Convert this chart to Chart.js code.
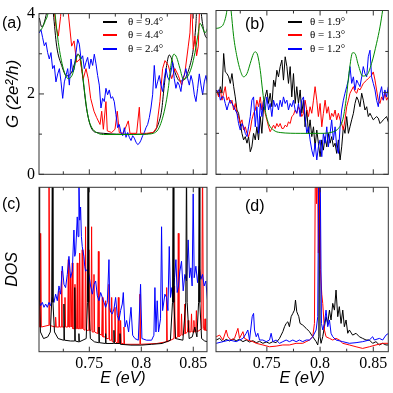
<!DOCTYPE html>
<html>
<head>
<meta charset="utf-8">
<script src="https://cdn.jsdelivr.net/npm/chart.js@4.4.0/dist/chart.umd.min.js"></script>
<style>
  html, body { margin: 0; padding: 0; background: #fff; }
  #wrap { position: relative; width: 393px; height: 393px; }
  #wrap canvas { position: absolute; left: 0; top: 0; }
</style>
</head>
<body>
<div id="wrap">
  <canvas id="pa" width="393" height="393"></canvas>
  <canvas id="pb" width="393" height="393"></canvas>
  <canvas id="pc" width="393" height="393"></canvas>
  <canvas id="pd" width="393" height="393"></canvas>
</div>
<script>
// ---- axis ticks ----
var xTickVals = [0.725, 0.75, 0.775, 0.8, 0.825, 0.85];
var xTickLabels = ['', '0.75', '', '0.8', '', '0.85'];
var gTickVals = [0, 1, 2, 3, 4];
var gTickLabels = ['0', '', '2', '', '4'];
var legendA = ['θ = 9.4°', 'θ = 4.4°', 'θ = 2.4°'];
var legendB = ['θ = 1.9°', 'θ = 1.3°', 'θ = 1.2°'];

// ---- (a) conductance ----
var aBlackE = [0.7019,0.7042,0.7064,0.7090,0.7106,0.7138,0.7154,0.7186,0.7234,0.7282,0.7330,0.7362,0.7388,0.7410,0.7442,0.7468,0.7490,0.7512,0.7538,0.7571,0.7635,0.7763,0.7923,0.8019,0.8083,0.8131,0.8163,0.8196,0.8218,0.8244,0.8269,0.8292,0.8324,0.8372,0.8420,0.8468,0.8500,0.8526,0.8538,0.8564,0.8580,0.8603,0.8628,0.8644];
var aBlackG = [3.89,3.67,3.76,4.05,4.41,4.41,4.01,3.19,2.71,2.45,2.54,2.79,2.99,2.91,2.30,1.73,1.41,1.20,1.08,1.04,1.02,1.00,1.00,1.00,1.02,1.08,1.25,1.60,2.14,2.71,2.97,2.87,2.54,2.32,2.38,2.71,3.11,3.76,4.41,4.41,3.93,3.56,3.40,3.44];
var aGreenE = [0.7019,0.7042,0.7074,0.7106,0.7122,0.7154,0.7170,0.7202,0.7250,0.7298,0.7340,0.7378,0.7394,0.7417,0.7442,0.7468,0.7490,0.7522,0.7571,0.7635,0.7923,0.8051,0.8115,0.8163,0.8196,0.8228,0.8260,0.8285,0.8314,0.8340,0.8372,0.8404,0.8436,0.8484,0.8516,0.8548,0.8564,0.8590,0.8612,0.8644];
var aGreenG = [3.56,3.62,3.80,4.05,4.41,4.41,4.01,3.28,2.63,2.38,2.50,2.91,2.97,2.87,2.34,1.77,1.41,1.17,1.04,0.99,0.99,1.00,1.02,1.12,1.33,1.65,2.14,2.71,2.99,2.91,2.63,2.37,2.40,2.67,3.03,3.52,3.76,3.64,3.52,3.68];
var aRedE = [0.7154,0.7165,0.7179,0.7202,0.7224,0.7238,0.7282,0.7298,0.7330,0.7353,
  0.7378,0.7410,0.7442,0.7468,0.7490,0.7513,0.7545,0.7571,0.7603,0.7619,
  0.7635,0.7660,0.7673,0.7715,0.7747,0.7769,0.7788,0.7827,0.7875,0.7891,
  0.7955,0.7981,0.7994,0.8051,0.8115,0.8147,0.8179,0.8205,0.8228,0.8260,
  0.8292,0.8324,0.8356,0.8388,0.8420,0.8452,0.8468,0.8484,0.8500,0.8516,
  0.8532,0.8548,0.8564,0.8644];
var aRedG = [4.41,4.01,3.68,3.44,3.93,4.41,4.41,4.01,3.19,3.32,
  2.79,2.87,2.38,2.63,2.38,1.89,1.57,1.41,1.24,1.57,
  1.12,1.81,1.08,1.04,1.12,1.57,1.04,1.02,1.33,1.02,
  1.02,1.67,1.02,1.02,1.04,1.16,1.81,2.63,2.83,2.71,
  2.38,2.63,2.46,2.22,2.54,3.19,3.52,4.41,3.11,3.44,
  2.95,3.19,4.41,4.41];
var aBlueE = [0.7019,0.7035,0.7051,0.7067,0.7083,0.7099,0.7115,0.7131,0.7147,0.7163,
  0.7179,0.7196,0.7212,0.7228,0.7244,0.7260,0.7276,0.7292,0.7308,0.7324,
  0.7340,0.7356,0.7372,0.7388,0.7404,0.7420,0.7436,0.7452,0.7468,0.7484,
  0.7500,0.7516,0.7532,0.7548,0.7564,0.7580,0.7596,0.7612,0.7628,0.7644,
  0.7660,0.7676,0.7692,0.7708,0.7724,0.7740,0.7756,0.7772,0.7788,0.7804,
  0.7821,0.7837,0.7853,0.7869,0.7885,0.7901,0.7917,0.7933,0.7949,0.7965,
  0.7981,0.7997,0.8013,0.8029,0.8045,0.8061,0.8077,0.8093,0.8109,0.8125,
  0.8141,0.8157,0.8173,0.8189,0.8205,0.8221,0.8237,0.8253,0.8269,0.8285,
  0.8301,0.8317,0.8333,0.8349,0.8365,0.8381,0.8397,0.8413,0.8429,0.8446,
  0.8462,0.8478,0.8494,0.8510,0.8526,0.8542,0.8558,0.8574,0.8590,0.8606,
  0.8622,0.8638];
var aBlueG = [3.52,3.60,3.40,3.20,3.28,3.03,2.87,3.03,2.63,2.71,
  2.30,2.50,2.63,2.30,1.89,2.30,2.46,2.63,2.22,2.87,
  2.54,2.63,3.03,3.36,3.24,2.87,2.95,2.63,2.79,2.91,
  2.63,2.87,2.71,2.99,2.75,2.46,2.22,1.65,1.89,1.81,
  2.14,1.98,2.10,1.89,1.93,1.81,1.49,1.16,1.24,1.04,
  0.96,1.16,0.92,1.04,0.92,0.84,0.96,0.90,0.80,0.74,
  0.77,0.85,0.96,1.04,1.16,1.24,1.41,1.65,1.98,2.71,
  2.14,2.30,2.46,2.22,2.06,2.38,2.63,2.42,2.34,2.54,
  2.79,2.38,2.14,2.30,2.22,2.06,2.38,2.46,2.63,2.38,
  2.22,2.46,2.30,1.98,1.81,2.14,2.50,2.22,1.98,2.30,
  2.46,2.22];

// ---- (b) conductance ----
var bGridE = [0.7016,0.7031,0.7047,0.7063,0.7078,0.7094,0.7109,0.7125,0.7141,0.7156,
  0.7172,0.7188,0.7203,0.7219,0.7234,0.7250,0.7266,0.7281,0.7297,0.7313,
  0.7328,0.7344,0.7359,0.7375,0.7391,0.7406,0.7422,0.7438,0.7453,0.7469,
  0.7484,0.7500,0.7516,0.7531,0.7547,0.7563,0.7578,0.7594,0.7609,0.7625,
  0.7641,0.7656,0.7672,0.7688,0.7703,0.7719,0.7734,0.7750,0.7766,0.7781,
  0.7797,0.7813,0.7828,0.7844,0.7859,0.7875,0.7891,0.7906,0.7922,0.7938,
  0.7953,0.7969,0.7984,0.8000,0.8016,0.8031,0.8047,0.8063,0.8078,0.8094,
  0.8109,0.8125,0.8141,0.8156,0.8172,0.8188,0.8203,0.8219,0.8234,0.8250,
  0.8266,0.8281,0.8297,0.8313,0.8328,0.8344,0.8359,0.8375,0.8391,0.8406,
  0.8422,0.8438,0.8453,0.8469,0.8484,0.8500,0.8516,0.8531,0.8547,0.8563,
  0.8578,0.8594,0.8609,0.8625,0.8641];
var bBlackG = [2.06,2.04,1.93,2.14,1.98,2.95,2.50,2.46,2.38,2.22,
  2.46,2.14,1.89,1.57,1.49,1.24,1.00,0.84,0.92,0.76,
  0.92,0.55,0.67,1.00,0.84,1.16,0.84,1.41,1.00,1.65,
  1.89,2.06,1.73,1.98,1.65,2.30,2.14,2.54,2.38,2.63,
  2.79,2.30,2.87,2.63,2.22,2.63,1.89,2.46,1.73,2.14,
  1.73,2.06,1.49,1.81,1.16,1.57,1.00,1.33,0.92,1.16,
  0.67,1.08,0.76,0.43,0.84,0.59,0.92,0.67,1.00,0.76,
  0.92,0.67,0.76,0.51,0.84,0.35,0.67,1.16,1.00,1.41,
  1.00,1.16,1.33,1.49,1.73,1.89,1.81,1.65,1.98,1.81,
  1.57,1.65,1.41,1.49,1.41,1.33,1.37,1.41,1.37,1.24,
  1.28,1.33,1.37,1.41,1.28];
var bRedG = [2.06,2.02,1.89,2.06,1.81,1.98,2.14,1.81,1.89,1.73,
  1.81,1.57,1.73,1.49,1.41,1.24,1.33,1.08,1.16,1.00,
  0.92,1.08,1.33,1.49,1.57,1.81,1.65,1.89,1.57,1.81,
  1.49,1.33,1.16,1.04,1.12,1.20,1.12,1.24,1.16,1.24,
  1.12,1.12,1.20,1.16,1.28,1.24,1.41,1.45,1.57,1.49,
  1.65,1.57,1.41,1.49,1.81,1.57,1.41,1.65,1.49,1.81,
  2.14,1.81,1.41,1.73,1.16,1.49,1.81,1.49,1.65,1.33,
  1.49,1.41,1.57,1.33,1.49,1.33,1.24,1.08,1.33,1.65,
  1.81,1.98,2.06,2.14,2.02,1.98,2.10,2.06,2.14,2.22,
  2.26,2.30,2.34,2.38,2.42,2.50,2.30,2.06,1.81,1.73,
  1.89,1.81,1.98,1.81,1.89];
var bBlueG = [1.98,2.02,2.06,1.81,1.89,1.89,1.73,1.57,1.73,1.81,
  1.73,1.65,1.57,1.49,1.24,1.08,1.24,1.16,1.00,0.92,
  1.16,1.41,1.81,1.89,1.16,1.65,1.00,1.73,1.41,1.81,
  1.57,1.89,1.57,1.73,1.41,1.81,1.65,1.73,1.57,1.81,
  1.65,1.89,1.73,1.81,1.57,1.73,1.65,1.81,1.57,1.49,
  1.73,1.41,1.81,1.89,1.41,1.00,1.16,0.84,0.59,0.43,
  0.76,0.35,0.67,0.84,0.43,1.00,0.76,1.16,0.67,1.00,
  1.33,0.84,1.16,0.67,0.51,1.16,1.57,1.81,1.98,2.14,
  2.30,2.63,2.22,2.38,2.06,2.30,2.22,2.14,2.38,2.63,
  2.46,2.38,2.87,3.03,2.38,2.22,2.06,1.81,1.65,1.98,
  2.14,1.81,2.06,1.89,2.14];
var bGreenE = [0.7016,0.7063,0.7094,0.7125,0.7141,0.7163,0.7188,0.7219,0.7250,0.7281,0.7313,0.7344,0.7375,0.7391,0.7413,0.7438,0.7459,0.7484,0.7516,0.7563,0.7625,0.7813,0.8000,0.8125,0.8172,0.8213,0.8244,0.8275,0.8306,0.8328,0.8359,0.8400,0.8438,0.8484,0.8531,0.8563,0.8588,0.8609,0.8641];
var bGreenG = [3.56,3.59,3.68,4.01,4.41,4.01,3.36,2.87,2.54,2.38,2.46,2.71,2.95,2.99,2.91,2.54,2.06,1.57,1.24,1.08,1.02,1.00,1.00,1.04,1.12,1.33,1.81,2.54,2.97,2.95,2.67,2.40,2.42,2.71,3.20,3.60,4.01,4.41,4.41];

// ---- (c) DOS ----
var cBlackE = [0.7016,0.7022,0.7030,0.7060,0.7100,0.7125,0.7138,0.7144,0.7150,0.7165,
  0.7200,0.7251,0.7256,0.7261,0.7320,0.7355,0.7360,0.7365,0.7396,0.7400,
  0.7404,0.7470,0.7482,0.7488,0.7494,0.7510,0.7550,0.7589,0.7593,0.7597,
  0.7653,0.7657,0.7661,0.7733,0.7737,0.7741,0.7791,0.7795,0.7799,0.7900,
  0.8000,0.8100,0.8200,0.8280,0.8300,0.8307,0.8313,0.8330,0.8400,0.8428,
  0.8435,0.8441,0.8460,0.8490,0.8515,0.8535,0.8551,0.8557,0.8563,0.8580,
  0.8610,0.8640];
var cBlackD = [1.2,0.30,0.12,0.08,0.09,0.12,0.30,1.2,0.30,0.12,
  0.08,0.07,0.29,0.07,0.065,0.065,0.39,0.065,0.06,0.11,
  0.06,0.08,0.30,1.2,0.30,0.08,0.06,0.055,0.15,0.055,
  0.05,0.11,0.05,0.05,0.13,0.05,0.05,0.11,0.045,0.04,
  0.04,0.045,0.05,0.07,0.30,1.2,0.30,0.08,0.07,0.30,
  1.2,0.30,0.08,0.09,0.15,0.09,0.30,1.2,0.30,0.08,
  0.065,0.06];
var cRedE = [0.7016,0.7022,
  0.7027,0.7032,0.7038, 0.7104,0.7112,0.7120, 0.7170,0.7176,0.7182,
  0.7202,0.7208,0.7214, 0.7228,0.7234,0.7240, 0.7260,0.7266,0.7272,
  0.7292,0.7298,0.7304, 0.7314,0.7320,0.7326, 0.7331,0.7336,0.7342,
  0.7356,0.7362,0.7368, 0.7378,0.7384,0.7390, 0.7401,0.7407,0.7413,
  0.7426,0.7432,0.7438, 0.7458,0.7464,0.7470, 0.7490,0.7496,0.7502,
  0.7516,0.7522,0.7528, 0.7539,0.7545,0.7551, 0.7581,0.7587,0.7593,
  0.7619,0.7625,0.7631, 0.7651,0.7657,0.7663, 0.7683,0.7689,0.7695,
  0.7709,0.7715,0.7721, 0.7741,0.7747,0.7753, 0.7773,0.7779,0.7785,
  0.7796,0.7801,0.7807, 0.7827,0.7833,0.7839, 0.7981,0.7987,0.7993,
  0.8150,
  0.8238,0.8244,0.8250, 0.8314,0.8320,0.8326, 0.8350,0.8356,0.8362,
  0.8381,0.8387,0.8393, 0.8413,0.8419,0.8425, 0.8445,0.8451,0.8457,
  0.8477,0.8483,0.8489, 0.8500,0.8506,0.8512, 0.8524,0.8530,0.8536,
  0.8581,0.8589,0.8597, 0.8607,0.8613,0.8619,
  0.8640];
var cRedD = [0.43,0.15,
  0.15,0.72,0.15, 0.16,1.2,0.16, 0.15,0.21,0.15,
  0.15,0.37,0.15, 0.15,0.49,0.15, 0.15,0.33,0.15,
  0.15,0.56,0.15, 0.15,0.47,0.15, 0.15,0.54,0.14,
  0.14,0.41,0.14, 0.14,0.54,0.14, 0.14,0.60,0.14,
  0.14,0.62,0.14, 0.13,0.76,0.13, 0.13,0.62,0.13,
  0.13,0.76,0.12, 0.12,0.47,0.12, 0.11,0.61,0.11,
  0.10,0.33,0.09, 0.09,0.31,0.08, 0.08,0.41,0.07,
  0.07,0.33,0.06, 0.06,0.27,0.06, 0.05,0.33,0.05,
  0.05,0.19,0.05, 0.05,0.15,0.045, 0.045,0.35,0.045,
  0.05,
  0.06,0.39,0.06, 0.08,0.40,0.08, 0.09,0.72,0.09,
  0.10,0.23,0.10, 0.11,0.29,0.11, 0.12,0.19,0.12,
  0.12,0.23,0.12, 0.12,0.19,0.12, 0.12,0.25,0.12,
  0.14,1.2,0.14, 0.13,0.20,0.13,
  0.13];
var cBlueE = [0.7016,0.7032,0.7048,0.7064,0.7080,0.7096,0.7112,0.7128,0.7144,0.7160,
  0.7176,0.7192,0.7208,0.7224,0.7240,0.7256,0.7272,0.7288,0.7304,0.7320,
  0.7336,0.7352,0.7360,0.7368,0.7384,0.7392,0.7400,0.7408,0.7416,0.7424,
  0.7432,0.7448,0.7456,0.7464,0.7480,0.7496,0.7512,0.7529,0.7545,0.7561,
  0.7577,0.7593,0.7609,0.7625,0.7641,0.7657,0.7673,0.7689,0.7697,0.7705,
  0.7721,0.7737,0.7753,0.7769,0.7785,0.7801,0.7817,0.7827,0.7843,0.7859,
  0.7878,0.7901,0.7917,0.7939,0.7971,0.7993,0.8006,0.8051,0.8099,0.8121,
  0.8131,0.8141,0.8153,0.8166,0.8185,0.8195,0.8205,0.8227,0.8243,0.8256,
  0.8269,0.8281,0.8294,0.8307,0.8320,0.8333,0.8345,0.8358,0.8371,0.8387,
  0.8403,0.8419,0.8435,0.8451,0.8464,0.8477,0.8489,0.8499,0.8509,0.8525,
  0.8541,0.8557,0.8573,0.8589,0.8605,0.8621,0.8637];
var cBlueD = [0.31,0.28,0.30,0.27,0.29,0.27,0.30,0.28,0.33,0.30,
  0.35,0.31,0.40,0.35,0.52,0.41,0.39,0.47,0.58,0.45,
  0.49,0.74,0.58,0.60,0.82,0.70,1.05,0.80,0.88,0.70,
  0.64,0.58,0.52,0.49,0.50,0.47,0.40,0.35,0.41,0.43,
  0.34,0.31,0.36,0.33,0.30,0.27,0.30,0.56,0.27,0.24,
  0.23,0.26,0.33,0.22,0.19,0.25,0.29,0.36,0.15,0.19,
  0.12,0.27,0.10,0.08,0.07,0.41,0.08,0.07,0.07,0.10,
  0.39,0.12,0.31,0.12,0.20,0.76,0.25,0.35,0.33,0.25,
  0.64,0.33,0.39,0.30,0.45,0.56,0.36,0.40,0.49,0.55,
  0.37,0.47,0.43,0.68,0.45,0.51,0.40,0.96,0.45,0.52,
  0.42,0.52,0.44,0.47,0.40,0.43,0.31];

// ---- (d) DOS ----
var dBlackE = [0.7024,0.7056,0.7087,0.7118,0.7149,0.7181,0.7212,0.7243,0.7275,0.7306,
  0.7337,0.7368,0.7400,0.7431,0.7462,0.7494,0.7525,0.7556,0.7587,0.7619,
  0.7634,0.7650,0.7666,0.7681,0.7697,0.7712,0.7728,0.7744,0.7759,0.7769,
  0.7781,0.7800,0.7812,0.7837,0.7869,0.7900,0.7931,0.7963,0.7978,0.7988,
  0.7994,0.8000,0.8009,0.8025,0.8041,0.8056,0.8072,0.8088,0.8103,0.8119,
  0.8135,0.8150,0.8166,0.8181,0.8197,0.8213,0.8228,0.8244,0.8260,0.8275,
  0.8306,0.8338,0.8369,0.8400,0.8432,0.8463,0.8494,0.8525,0.8557,0.8588,
  0.8619,0.8644];
var dBlackD = [0.071,0.081,0.061,0.075,0.065,0.077,0.067,0.075,0.061,0.071,
  0.059,0.067,0.055,0.063,0.051,0.059,0.051,0.061,0.055,0.081,
  0.101,0.122,0.152,0.172,0.182,0.152,0.213,0.233,0.253,0.314,
  0.243,0.213,0.172,0.162,0.142,0.122,0.091,0.061,0.041,0.09,
  1.2,0.09,0.051,0.091,0.152,0.213,0.172,0.253,0.193,0.294,
  0.253,0.375,0.213,0.274,0.172,0.253,0.152,0.193,0.112,0.132,
  0.101,0.112,0.091,0.081,0.071,0.071,0.051,0.061,0.041,0.051,
  0.041,0.041];
var dRedE = [0.7024,0.7056,0.7087,0.7118,0.7134,0.7165,0.7196,0.7228,0.7243,0.7275,
  0.7290,0.7321,0.7368,0.7400,0.7462,0.7525,0.7587,0.7650,0.7712,0.7775,
  0.7837,0.7869,0.7900,0.7931,0.7947,0.7956,0.7966,0.7975,0.7984,0.7994,
  0.8003,0.8016,0.8025,0.8041,0.8056,0.8088,0.8119,0.8150,0.8181,0.8213,
  0.8275,0.8338,0.8400,0.8463,0.8525,0.8588,0.8644];
var dRedD = [0.091,0.101,0.071,0.132,0.091,0.071,0.081,0.142,0.081,0.122,
  0.081,0.071,0.061,0.051,0.041,0.030,0.034,0.041,0.041,0.051,
  0.051,0.061,0.071,0.091,0.172,1.2,0.9,1.2,0.6,1.2,
  0.5,0.35,0.294,0.132,0.091,0.081,0.071,0.081,0.071,0.051,
  0.041,0.030,0.020,0.030,0.041,0.051,0.051];
var dBlueE = [0.7024,0.7087,0.7149,0.7212,0.7275,0.7306,0.7321,0.7337,0.7362,0.7375,
  0.7384,0.7400,0.7415,0.7431,0.7462,0.7494,0.7525,0.7540,0.7556,0.7587,
  0.7619,0.7650,0.7681,0.7712,0.7744,0.7775,0.7806,0.7837,0.7869,0.7900,
  0.7931,0.7963,0.7978,0.7988,0.8000,0.8013,0.8025,0.8041,0.8056,0.8072,
  0.8088,0.8103,0.8119,0.8150,0.8213,0.8275,0.8338,0.8400,0.8463,0.8494,
  0.8510,0.8557,0.8588,0.8619,0.8644];
var dBlueD = [0.051,0.061,0.071,0.061,0.081,0.112,0.132,0.071,0.213,0.233,
  0.132,0.091,0.112,0.071,0.071,0.061,0.071,0.112,0.061,0.071,
  0.051,0.061,0.071,0.061,0.071,0.061,0.071,0.061,0.071,0.071,
  0.091,0.132,0.213,1.2,1.2,0.172,0.132,0.172,0.253,0.152,
  0.193,0.112,0.091,0.071,0.061,0.051,0.055,0.061,0.071,0.091,
  0.071,0.081,0.071,0.101,0.112];

var serif = '"Liberation Serif", "Times New Roman", serif';
var sans = '"Liberation Sans", Arial, sans-serif';
var SIZE = 393;

function pts(xs, ys) {
  return xs.map(function (x, i) { return { x: x, y: ys[i] }; });
}

function line(xs, ys, color, smooth) {
  return {
    data: pts(xs, ys),
    borderColor: color,
    borderWidth: 1,
    pointRadius: 0,
    fill: false,
    tension: smooth ? 0.4 : 0,
    cubicInterpolationMode: smooth ? 'monotone' : 'default',
    clip: 0
  };
}

// frame, inward ticks, panel letter and legend
function frame(o) {
  return {
    id: 'frame',
    afterDraw: function (chart) {
      var a = chart.chartArea, ctx = chart.ctx;
      var xs = chart.scales.x, ys = chart.scales.y;
      ctx.save();
      ctx.strokeStyle = '#333';
      ctx.lineWidth = 1;
      ctx.strokeRect(a.left, a.top, a.right - a.left, a.bottom - a.top);
      ctx.beginPath();
      xTickVals.forEach(function (v, i) {
        var p = xs.getPixelForValue(v), len = xTickLabels[i] ? 5 : 3;
        ctx.moveTo(p, a.bottom); ctx.lineTo(p, a.bottom - len);
        ctx.moveTo(p, a.top); ctx.lineTo(p, a.top + len);
      });
      if (o.yTicks) {
        gTickVals.forEach(function (v, i) {
          var p = ys.getPixelForValue(v), len = gTickLabels[i] ? 5 : 3;
          ctx.moveTo(a.left, p); ctx.lineTo(a.left + len, p);
          ctx.moveTo(a.right, p); ctx.lineTo(a.right - len, p);
        });
      }
      ctx.stroke();

      ctx.fillStyle = '#000';
      ctx.textBaseline = 'middle';
      ctx.font = '16px ' + sans;
      ctx.fillText(o.tag, o.tagX, o.tagY);

      if (o.legend) {
        var rows = [22, 35, 49];
        var cols = ['#000000', '#ff0000', '#0000ff'];
        ctx.font = '11px ' + serif;
        ctx.lineWidth = 2;
        o.legend.forEach(function (txt, i) {
          ctx.strokeStyle = cols[i];
          ctx.beginPath();
          ctx.moveTo(o.lx, rows[i]); ctx.lineTo(o.lx + 14, rows[i]);
          ctx.stroke();
          ctx.fillText(txt, o.tx, rows[i]);
        });
      }
      ctx.restore();
    }
  };
}

function panel(id, box, o, sets) {
  var yw = o.yTitle ? 36 : 0;
  var xh = o.xTitle ? 36 : 0;
  return new Chart(document.getElementById(id), {
    type: 'line',
    data: { datasets: sets },
    options: {
      responsive: false,
      animation: false,
      events: [],
      layout: { padding: { left: box[0] - yw, top: box[1], right: SIZE - box[2], bottom: SIZE - box[3] - xh } },
      plugins: { legend: { display: false }, tooltip: { enabled: false } },
      scales: {
        x: {
          type: 'linear',
          min: o.xMin,
          max: o.xMax,
          display: !!o.xTitle,
          afterFit: function (s) { s.height = xh; },
          afterBuildTicks: function (s) { s.ticks = xTickVals.map(function (v) { return { value: v }; }); },
          grid: { display: false, drawTicks: false },
          border: { display: false },
          ticks: {
            autoSkip: false, maxRotation: 0, padding: 2, color: '#000',
            font: { family: serif, size: 16 },
            callback: function (v) {
              for (var k = 0; k < xTickVals.length; k++) if (Math.abs(xTickVals[k] - v) < 1e-6) return xTickLabels[k];
              return '';
            }
          },
          title: { display: !!o.xTitle, text: 'E (eV)', color: '#000', padding: 0,
                   font: { family: sans, size: 16, style: 'italic' } }
        },
        y: {
          type: 'linear',
          min: 0,
          max: o.yMax,
          display: !!o.yTitle,
          afterFit: function (s) { s.width = yw; },
          afterBuildTicks: function (s) { s.ticks = gTickVals.map(function (v) { return { value: v }; }); },
          grid: { display: false, drawTicks: false },
          border: { display: false },
          ticks: {
            display: !!o.yLabels, autoSkip: false, padding: 4, color: '#000',
            font: { family: serif, size: 16 },
            callback: function (v) {
              for (var k = 0; k < gTickVals.length; k++) if (Math.abs(gTickVals[k] - v) < 1e-6) return gTickLabels[k];
              return '';
            }
          },
          title: { display: !!o.yTitle, text: o.yTitle || '', color: '#000', padding: 0,
                   font: { family: sans, size: o.titleSize || 16, style: 'italic' } }
        }
      }
    },
    plugins: [frame(o)]
  });
}

var GREEN = '#008a00', RED = '#ff0000', BLUE = '#0000ff', BLACK = '#000000';

panel('pa', [39, 10.5, 207, 174.3],
  { xMin: 0.7016, xMax: 0.8632, yMax: 4, yTitle: 'G (2e²/h)', titleSize: 17, yLabels: true, yTicks: true,
    tag: '(a)', tagX: 2, tagY: 24, legend: legendA, lx: 103, tx: 128 },
  [line(aGreenE, aGreenG, GREEN, true),
   line(aBlueE, aBlueG, BLUE, false),
   line(aRedE, aRedG, RED, false),
   line(aBlackE, aBlackG, BLACK, true)]);

panel('pb', [216, 10.5, 388.3, 174.3],
  { xMin: 0.7022, xMax: 0.8641, yMax: 4, yTicks: true,
    tag: '(b)', tagX: 245, tagY: 25, legend: legendB, lx: 288, tx: 310 },
  [line(bGreenE, bGreenG, GREEN, true),
   line(bGridE, bBlueG, BLUE, false),
   line(bGridE, bRedG, RED, false),
   line(bGridE, bBlackG, BLACK, false)]);

panel('pc', [39, 187.3, 207, 351.7],
  { xMin: 0.7016, xMax: 0.8632, yMax: 1, yTitle: 'DOS', xTitle: true,
    tag: '(c)', tagX: 2, tagY: 205 },
  [line(cBlackE, cBlackD, BLACK, false),
   line(cBlueE, cBlueD, BLUE, false),
   line(cRedE, cRedD, RED, false)]);

panel('pd', [216, 187.3, 388.3, 351.7],
  { xMin: 0.7022, xMax: 0.8641, yMax: 1, xTitle: true,
    tag: '(d)', tagX: 245, tagY: 207 },
  [line(dBlueE, dBlueD, BLUE, false),
   line(dRedE, dRedD, RED, false),
   line(dBlackE, dBlackD, BLACK, false)]);
</script>
</body>
</html>
